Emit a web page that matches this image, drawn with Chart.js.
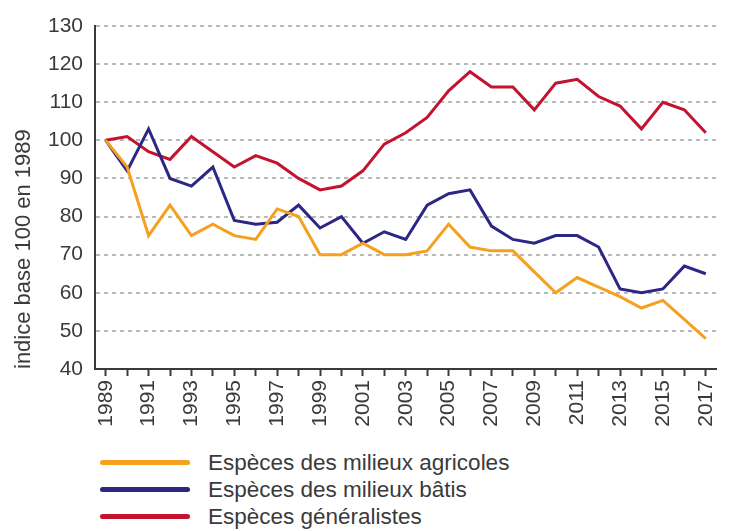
<!DOCTYPE html>
<html>
<head>
<meta charset="utf-8">
<script src="https://cdn.jsdelivr.net/npm/chart.js@4/dist/chart.umd.min.js"></script>
<style>
  html, body { margin: 0; padding: 0; background: #fff; }
  #wrap { position: relative; width: 735px; height: 531px; overflow: hidden; }
  #chart { position: absolute; left: 0; top: 0; }
  #legend { position: absolute; left: 100px; top: 449px; font-family: "Liberation Sans", Arial, sans-serif; font-size: 22.5px; color: #3a3a3a; }
  .item { display: flex; align-items: center; height: 27px; }
  .swatch { width: 90px; height: 5px; border-radius: 3px; margin-right: 18px; }
</style>
</head>
<body>
<div id="wrap">
  <canvas id="chart" width="735" height="440"></canvas>
  <div id="legend"></div>
</div>
<script>
// Data (indice base 100 en 1989)
const years = [
  "1989", "1990", "1991", "1992", "1993", "1994", "1995", "1996", "1997", "1998",
  "1999", "2000", "2001", "2002", "2003", "2004", "2005", "2006", "2007", "2008",
  "2009", "2010", "2011", "2012", "2013", "2014", "2015", "2016", "2017"
];

const agricoles = [
  100, 93, 75, 83, 75, 78, 75, 74, 82, 80,
  70, 70, 73, 70, 70, 71, 78, 72, 71, 71,
  65.5, 60, 64, 61.5, 59, 56, 58, 53, 48
];

const batis = [
  100, 92, 103, 90, 88, 93, 79, 78, 78.5, 83,
  77, 80, 73, 76, 74, 83, 86, 87, 77.5, 74,
  73, 75, 75, 72, 61, 60, 61, 67, 65
];

const generalistes = [
  100, 101, 97, 95, 101, 97, 93, 96, 94, 90,
  87, 88, 92, 99, 102, 106, 113, 118, 114, 114,
  108, 115, 116, 111.5, 109, 103, 110, 108, 102
];

const seriesLabels = [
  "Espèces des milieux agricoles",
  "Espèces des milieux bâtis",
  "Espèces généralistes"
];
const seriesColors = ["#f5a01e", "#2c2785", "#c3132f"];

const yTicks = { min: 40, max: 130, step: 10 };

const tickFont = { family: "'Liberation Sans', Arial, sans-serif", size: 21 };

// Build datasets
function makeDataset(label, values, color) {
  return {
    label: label,
    data: values,
    borderColor: color,
    backgroundColor: color,
    borderWidth: 3,
    pointRadius: 0,
    tension: 0,
    fill: false,
  };
}

const datasets = [
  makeDataset(seriesLabels[0], agricoles, seriesColors[0]),
  makeDataset(seriesLabels[1], batis, seriesColors[1]),
  makeDataset(seriesLabels[2], generalistes, seriesColors[2]),
];

const ctx = document.getElementById("chart");

const chart = new Chart(ctx, {
  type: "line",
  data: {
    labels: years,
    datasets: datasets,
  },
  options: {
    responsive: false,
    animation: false,
    layout: {
      padding: { top: 26, right: 3, bottom: 11, left: 11 },
    },
    plugins: {
      legend: { display: false },
      tooltip: { enabled: false },
    },
    scales: {
      x: {
        type: "category",
        offset: true,
        grid: {
          drawOnChartArea: false,
          drawTicks: true,
          tickLength: 7,
          tickWidth: 2,
          tickColor: "#3a3a3a",
          offset: false,
        },
        border: { display: true, color: "#3a3a3a", width: 2 },
        ticks: {
          autoSkip: false,
          maxRotation: 90,
          minRotation: 90,
          padding: 4,
          color: "#3a3a3a",
          font: tickFont,
          callback: function (value, index) {
            return index % 2 === 0 ? this.getLabelForValue(value) : "";
          },
        },
        afterFit: function (scale) {
          scale.height = 60;
        },
      },
      y: {
        min: yTicks.min,
        max: yTicks.max,
        grid: {
          drawTicks: false,
          color: "#b9b9b9",
          lineWidth: 2,
        },
        border: { display: true, color: "#3a3a3a", width: 2, dash: [4, 4] },
        ticks: {
          stepSize: yTicks.step,
          padding: 12,
          color: "#3a3a3a",
          font: tickFont,
        },
        title: {
          display: true,
          align: "start",
          text: "indice base 100 en 1989",
          color: "#3a3a3a",
          font: { family: "'Liberation Sans', Arial, sans-serif", size: 22 },
          padding: { top: 0, bottom: 6 },
        },
        afterFit: function (scale) {
          scale.width = 84;
        },
      },
    },
  },
});

// HTML legend
const legend = document.getElementById("legend");
legend.innerHTML = chart.data.datasets
  .map(
    (ds) => `
      <div class="item">
        <span class="swatch" style="background:${ds.borderColor}"></span>
        <span>${ds.label}</span>
      </div>`
  )
  .join("");
</script>
</body>
</html>
